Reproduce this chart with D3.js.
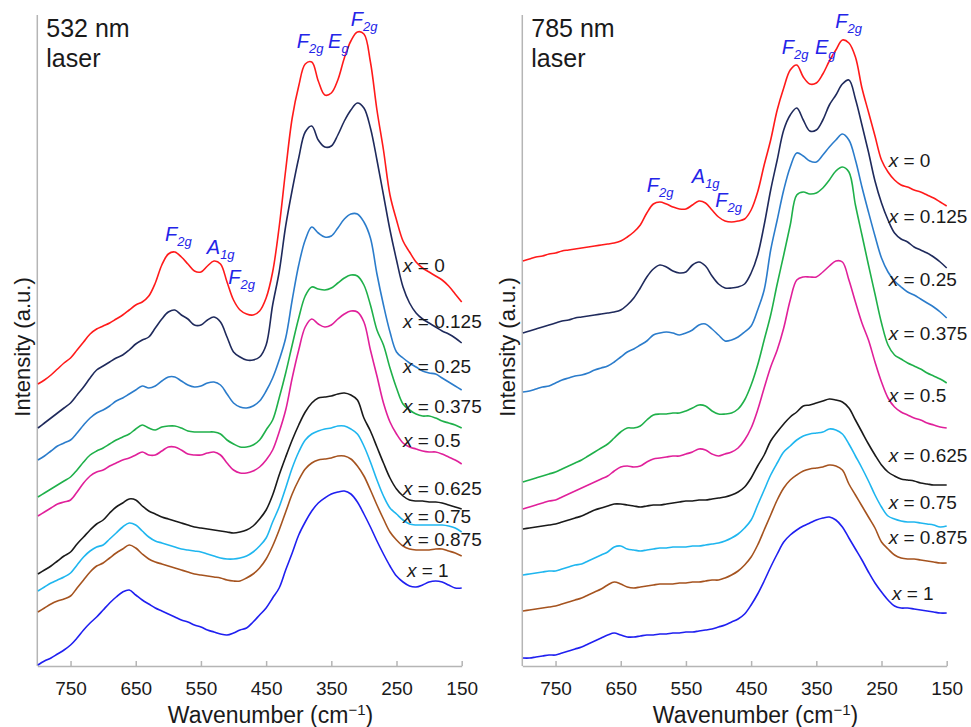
<!DOCTYPE html>
<html>
<head>
<meta charset="utf-8">
<script src="https://cdn.jsdelivr.net/npm/d3@7"></script>
<style>
body { margin: 0; background: #fff; }
text { font-family: Arial, "Liberation Sans", Helvetica, sans-serif; fill: #1a1a1a; }
</style>
</head>
<body>
<div id="main"></div>
<script>
// Raman shift grid (cm-1) shared by every spectrum
var wavenumbers = [800,790,780,770,760,750,740,730,720,710,700,690,680,670,660,650,640,630,620,610,
    600,590,580,570,560,550,540,530,520,510,500,490,480,470,460,450,440,430,420,410,
    400,390,380,370,360,350,340,330,320,310,300,290,280,270,260,250,240,230,220,210,
    200,190,180,170,160,150];

var compositions = ["0", "0.125", "0.25", "0.375", "0.5", "0.625", "0.75", "0.875", "1"];
var lineColors = ["#ff1a1a", "#1f2a5c", "#2b7ccb", "#1fb04a", "#e0209a", "#1a1a1a", "#1fb6ef", "#a5531f", "#1f1ff0"];
var xTicks = [750, 650, 550, 450, 350, 250, 150];

// 532 nm laser, stacked intensities (a.u.)
var s532_0 = [282,286,291,297,303,308,316,324,332,337,340,343,347,351,356,361,364,370,383,401,412,414,409,402,395,394,400,405,402,384,366,356,352,351,355,368,394,439,496,548,580,602,604,585,571,573,586,608,625,634,632,604,556,516,471,446,425,414,404,398,394,390,386,380,372,364];
var s532_0125 = [238,243,248,253,258,263,271,279,288,296,300,304,308,311,316,322,326,329,338,347,354,356,351,347,341,341,346,349,344,329,314,309,306,306,309,321,361,394,440,476,508,534,540,526,519,520,531,545,556,563,558,538,506,471,436,406,379,363,353,347,343,339,335,332,328,323];
var s532_025 = [206,210,215,220,223,226,233,241,248,253,256,260,265,268,272,276,280,278,280,285,289,289,285,281,279,280,283,284,281,272,263,259,258,260,265,275,288,306,328,366,401,426,439,433,429,430,438,447,452,452,444,428,392,361,334,314,308,303,299,295,293,292,288,284,280,276];
var s532_0375 = [169,173,177,181,185,189,196,204,211,215,218,222,226,229,232,237,241,238,236,239,240,240,238,235,234,234,234,234,232,226,222,219,219,221,226,236,246,268,293,321,348,370,379,377,376,378,383,388,391,390,381,361,336,321,298,278,262,256,252,250,250,248,245,243,241,238];
var s532_05 = [150,154,158,162,164,166,174,183,190,194,196,200,203,206,208,211,214,211,211,215,219,219,216,212,211,211,213,214,211,203,196,193,193,195,199,206,216,234,256,288,316,339,347,342,339,341,347,352,355,354,344,316,290,263,244,232,223,219,217,215,214,214,212,209,206,202];
var s532_0625 = [92,96,100,105,110,114,122,129,136,142,146,153,159,163,167,166,160,155,152,149,147,145,143,141,139,138,137,136,135,134,133,134,136,140,147,156,171,191,209,226,241,254,263,268,269,270,272,273,271,266,248,235,219,203,188,177,170,166,165,165,164,164,163,161,159,157];
var s532_075 = [75,79,83,86,89,93,101,109,115,119,121,127,133,139,143,141,135,129,125,123,121,119,117,116,115,114,112,110,108,107,107,108,110,114,120,128,144,159,178,198,214,226,232,235,237,238,240,240,237,232,220,204,186,170,158,152,146,142,141,141,141,141,141,140,138,134];
var s532_0875 = [54,58,62,65,67,70,78,86,94,100,103,108,113,117,121,118,112,107,104,102,100,98,96,94,92,91,90,89,88,86,85,85,88,92,98,107,120,136,154,172,186,197,203,206,207,208,210,210,207,200,190,176,161,147,134,126,120,117,116,116,116,117,117,115,113,110];
var s532_1 = [1,5,8,12,16,21,28,36,43,49,56,63,69,74,76,71,66,62,58,55,52,49,46,44,41,39,36,34,32,31,33,36,38,44,51,58,68,78,96,113,131,144,155,163,168,172,174,175,172,164,152,139,125,112,100,90,84,80,79,81,84,85,84,81,78,78];

// 785 nm laser, stacked intensities (a.u.)
var s785_0 = [405,407,409,410,412,413,415,416,417,418,419,420,421,422,423,425,429,434,441,453,462,464,462,459,457,457,461,465,463,456,449,445,444,445,447,456,474,501,526,556,578,596,601,589,582,583,592,605,616,626,623,609,578,554,530,506,494,486,481,479,476,474,471,468,464,460];
var s785_0125 = [333,335,337,339,341,343,345,346,348,349,350,351,352,353,354,356,361,368,378,389,397,401,399,395,393,394,401,404,400,390,382,378,378,379,382,393,411,441,476,506,536,551,558,546,535,536,546,561,571,582,586,567,541,514,485,463,446,433,427,424,419,416,413,409,404,398];
var s785_025 = [274,275,277,279,280,283,286,288,290,291,293,296,298,300,304,309,314,317,321,325,331,333,334,333,331,333,336,341,342,337,331,325,326,329,334,340,356,376,416,446,476,499,513,510,505,504,511,519,526,532,526,506,479,454,430,408,394,385,379,374,371,367,363,359,354,348];
var s785_0375 = [184,186,188,190,192,194,197,200,203,206,210,214,218,222,228,234,238,238,240,246,251,252,252,253,253,255,258,261,260,255,252,252,253,257,266,281,301,326,351,382,411,441,471,474,472,473,478,486,495,499,494,461,431,401,372,343,321,311,307,303,300,297,293,290,287,283];
var s785_05 = [157,159,161,163,165,166,169,172,175,178,181,184,187,190,195,199,200,199,200,204,207,208,209,210,210,212,214,217,216,212,210,212,214,218,226,238,256,278,299,316,338,366,386,389,389,389,394,400,405,404,386,364,343,326,304,284,268,259,254,251,248,246,243,241,239,238];
var s785_0625 = [137,138,139,140,141,142,144,146,148,150,153,156,158,160,162,162,161,160,159,160,161,161,162,163,164,165,165,166,166,167,168,169,171,174,179,188,200,211,225,234,242,249,254,260,261,263,265,267,266,264,258,246,234,222,211,201,194,190,187,186,185,183,182,181,181,181];
var s785_075 = [91,92,93,94,95,95,97,99,101,102,105,108,111,114,119,120,117,116,115,116,117,118,118,119,119,119,120,120,121,122,123,125,128,132,138,146,161,176,191,203,214,220,226,230,232,233,234,237,236,232,222,210,198,185,171,159,150,147,145,144,144,143,142,141,139,140];
var s785_0875 = [55,56,57,58,59,60,62,64,66,68,71,74,77,81,84,82,79,78,79,80,81,82,82,82,83,83,84,84,85,86,86,88,91,95,101,109,121,136,151,166,178,186,191,195,197,198,199,201,200,196,182,171,160,149,138,124,117,111,108,107,107,106,105,104,103,103];
var s785_1 = [8,8,9,10,11,11,13,15,17,19,22,25,28,31,33,31,29,29,30,31,31,32,32,33,33,34,34,35,36,37,39,41,44,47,52,61,72,85,99,112,124,131,136,140,143,146,148,149,146,139,128,117,106,94,83,74,66,60,58,58,57,56,55,54,53,53];

// where the "x = ..." labels sit, as [wavenumber, intensity]
var compLabels532 = [[240,394],[240,338],[240,293],[240,253],[240,219],[240,171],[240,143],[240,120],[234,89]];
var compLabels785 = [[239,499],[239,443],[239,380],[239,326],[239,264],[239,204],[239,157],[239,122],[234,66]];

// Raman mode labels
var modes532 = [
    { main: "F", sub: "2g", w: 605, v: 425 },
    { main: "A", sub: "1g", w: 541, v: 412 },
    { main: "F", sub: "2g", w: 508, v: 382 },
    { main: "F", sub: "2g", w: 403, v: 618 },
    { main: "E", sub: "g", w: 355, v: 618 },
    { main: "F", sub: "2g", w: 320, v: 640 }
];
var modes785 = [
    { main: "F", sub: "2g", w: 610, v: 474 },
    { main: "A", sub: "1g", w: 541, v: 483 },
    { main: "F", sub: "2g", w: 505, v: 459 },
    { main: "F", sub: "2g", w: 403, v: 612 },
    { main: "E", sub: "g", w: 352, v: 612 },
    { main: "F", sub: "2g", w: 321, v: 638 }
];

var panels = [
    { laser: "532 nm", left: 37.3, series: [s532_0, s532_0125, s532_025, s532_0375, s532_05, s532_0625, s532_075, s532_0875, s532_1], labels: compLabels532, modes: modes532 },
    { laser: "785 nm", left: 522.3, series: [s785_0, s785_0125, s785_025, s785_0375, s785_05, s785_0625, s785_075, s785_0875, s785_1], labels: compLabels785, modes: modes785 }
];

var width = 971, height = 727;
var plotWidth = 424.4;
var plotTop = 15, plotBottom = 666;

var svg = d3.select("#main")
    .append("svg")
    .attr("width", width)
    .attr("height", height);

var yScale = d3.scaleLinear()
    .domain([0, 651])
    .range([plotBottom, plotTop]);

panels.forEach(function (p) {
    var xScale = d3.scaleLinear()
        .domain([801, 150])
        .range([p.left, p.left + plotWidth]);

    var g = svg.append("g");

    // y axis is only a bare line
    g.append("line")
        .attr("x1", p.left).attr("x2", p.left)
        .attr("y1", plotTop).attr("y2", plotBottom)
        .attr("stroke", "#b5b5b5")
        .attr("stroke-width", 1.5);

    // x axis, ticks pointing inward
    var xAxis = g.append("g")
        .attr("transform", "translate(0," + plotBottom + ")")
        .call(d3.axisBottom(xScale)
            .tickValues(xTicks)
            .tickSizeInner(-5)
            .tickSizeOuter(0)
            .tickPadding(16));
    xAxis.select(".domain").attr("stroke", "#b5b5b5").attr("stroke-width", 1.5);
    xAxis.selectAll(".tick line").attr("stroke", "#b5b5b5").attr("stroke-width", 1.5);
    xAxis.selectAll(".tick text")
        .attr("fill", "#1a1a1a")
        .style("font-size", "19px")
        .style("font-family", "Arial, 'Liberation Sans', sans-serif");

    // spectra
    var line = d3.line()
        .x(function (d, i) { return xScale(wavenumbers[i]); })
        .y(function (d) { return yScale(d); })
        .curve(d3.curveCatmullRom.alpha(0.5));

    g.selectAll(".spectrum")
        .data(p.series)
        .enter()
        .append("path")
        .attr("class", "spectrum")
        .attr("d", line)
        .attr("fill", "none")
        .attr("stroke", function (d, i) { return lineColors[i]; })
        .attr("stroke-width", 1.6)
        .attr("stroke-linejoin", "round");

    // composition labels
    var lab = g.selectAll(".comp")
        .data(p.labels)
        .enter()
        .append("text")
        .attr("class", "comp")
        .attr("x", function (d) { return xScale(d[0]); })
        .attr("y", function (d) { return yScale(d[1]); })
        .style("font-size", "19px");
    lab.append("tspan").style("font-style", "italic").text("x");
    lab.append("tspan").text(function (d, i) { return " = " + compositions[i]; });

    // mode assignments in blue
    var m = g.selectAll(".mode")
        .data(p.modes)
        .enter()
        .append("text")
        .attr("class", "mode")
        .attr("x", function (d) { return xScale(d.w); })
        .attr("y", function (d) { return yScale(d.v); })
        .style("font-style", "italic")
        .style("font-size", "20px");
    m.append("tspan").attr("fill", "#2424e8").text(function (d) { return d.main; });
    m.append("tspan").attr("fill", "#2424e8")
        .attr("dy", 5)
        .style("font-size", "13px")
        .text(function (d) { return d.sub; });

    // laser title
    g.append("text")
        .attr("x", p.left + 9)
        .attr("y", 37)
        .style("font-size", "25px")
        .text(p.laser);
    g.append("text")
        .attr("x", p.left + 9)
        .attr("y", 67)
        .style("font-size", "25px")
        .text("laser");

    // axis titles
    var xt = g.append("text")
        .attr("x", p.left + plotWidth / 2 + 21)
        .attr("y", 723)
        .attr("text-anchor", "middle")
        .style("font-size", "23px");
    xt.append("tspan").text("Wavenumber (cm");
    xt.append("tspan").attr("dy", -8).style("font-size", "15px").text("\u22121");
    xt.append("tspan").attr("dy", 8).text(")");

    g.append("text")
        .attr("transform", "translate(" + (p.left - 7) + ",347) rotate(-90)")
        .attr("text-anchor", "middle")
        .style("font-size", "22px")
        .text("Intensity (a.u.)");
});
</script>
</body>
</html>
